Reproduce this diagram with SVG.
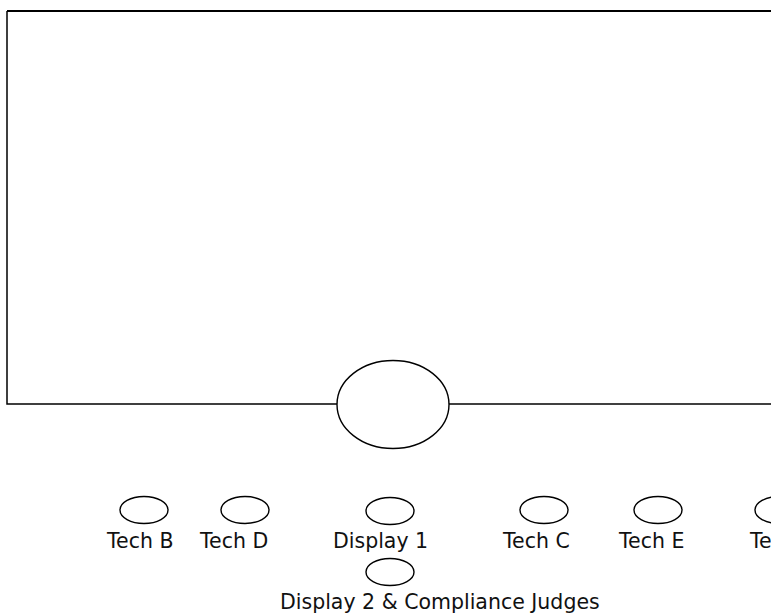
<svg xmlns="http://www.w3.org/2000/svg" width="771" height="614" viewBox="0 0 771 614">
<style>
.ln{fill:none;stroke:#000;stroke-width:1.5}
.nd{fill:#fff;stroke:#000;stroke-width:1.4}
.lb{font-family:"DejaVu Sans",Verdana,sans-serif;font-size:20.5px;fill:#111}
</style>
<rect width="771" height="614" fill="#fff"/>
<g id="connectors">
<path class="ln" d="M7,11 H780" style="stroke-width:2"/>
<path class="ln" d="M7,11 V404 H338"/>
<path class="ln" d="M448,404 H780"/>
</g>
<g id="hub"><ellipse class="nd" cx="393" cy="404.5" rx="56" ry="44"/></g>
<g id="techB"><ellipse class="nd" cx="144" cy="510" rx="24" ry="13.5"/><text class="lb" x="107" y="548">Tech B</text></g>
<g id="techD"><ellipse class="nd" cx="245" cy="510" rx="24" ry="13.5"/><text class="lb" x="200" y="548">Tech D</text></g>
<g id="display1"><ellipse class="nd" cx="390" cy="511" rx="24" ry="13.5"/><text class="lb" x="333" y="548">Display 1</text></g>
<g id="techC"><ellipse class="nd" cx="544" cy="510" rx="24" ry="13.5"/><text class="lb" x="503" y="548">Tech C</text></g>
<g id="techE"><ellipse class="nd" cx="658" cy="510" rx="24" ry="13.5"/><text class="lb" x="619" y="548">Tech E</text></g>
<g id="techF"><ellipse class="nd" cx="779" cy="510" rx="24" ry="13.5"/><text class="lb" x="750" y="548">Te</text></g>
<g id="display2"><ellipse class="nd" cx="390" cy="572" rx="24" ry="13.5"/><text class="lb" x="280" y="609">Display 2 &amp; Compliance Judges</text></g>
</svg>
